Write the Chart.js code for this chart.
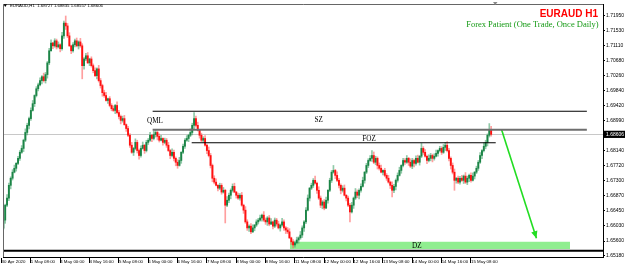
<!DOCTYPE html>
<html><head><meta charset="utf-8">
<script src="https://cdn.jsdelivr.net/npm/chart.js@4.4.1/dist/chart.umd.min.js"></script>
<style>html,body{margin:0;padding:0;background:#fff;overflow:hidden}</style>
</head><body>
<canvas id="c" width="625" height="270"></canvas>
<script>
const symbol = "EURAUD,H1";
const titleText = "EURAUD H1";
const subtitleText = "Forex Patient (One Trade, Once Daily)";

const opens = [1.6585,1.6596,1.6619,1.6661,1.6681,1.6717,1.6737,1.6754,1.6765,1.6779,
1.6793,1.6810,1.6821,1.6844,1.6866,1.6886,1.6905,1.6928,1.6947,1.6970,
1.6989,1.7000,1.7012,1.7023,1.7012,1.7029,1.7062,1.7096,1.7118,1.7110,
1.7124,1.7107,1.7113,1.7102,1.7138,1.7174,1.7166,1.7138,1.7110,1.7096,
1.7113,1.7124,1.7110,1.7121,1.7110,1.7054,1.7073,1.7082,1.7062,1.7073,
1.7054,1.7040,1.7026,1.7045,1.7012,1.6998,1.6978,1.6970,1.6956,1.6961,
1.6942,1.6933,1.6928,1.6942,1.6922,1.6911,1.6900,1.6905,1.6888,1.6877,
1.6858,1.6830,1.6810,1.6821,1.6838,1.6815,1.6801,1.6821,1.6830,1.6815,
1.6838,1.6844,1.6858,1.6849,1.6860,1.6866,1.6855,1.6844,1.6849,1.6838,
1.6844,1.6830,1.6815,1.6801,1.6810,1.6793,1.6782,1.6773,1.6787,1.6810,
1.6827,1.6844,1.6849,1.6858,1.6866,1.6886,1.6905,1.6886,1.6872,1.6858,
1.6844,1.6849,1.6830,1.6815,1.6801,1.6773,1.6737,1.6726,1.6717,1.6709,
1.6717,1.6698,1.6703,1.6661,1.6675,1.6689,1.6703,1.6714,1.6698,1.6689,
1.6681,1.6689,1.6661,1.6647,1.6614,1.6597,1.6602,1.6586,1.6597,1.6605,
1.6614,1.6619,1.6625,1.6633,1.6619,1.6614,1.6625,1.6608,1.6614,1.6602,
1.6619,1.6608,1.6597,1.6605,1.6614,1.6597,1.6591,1.6586,1.6569,1.6558,
1.6549,1.6555,1.6563,1.6569,1.6577,1.6597,1.6614,1.6647,1.6681,1.6709,
1.6717,1.6731,1.6723,1.6703,1.6681,1.6661,1.6670,1.6653,1.6675,1.6703,
1.6731,1.6754,1.6759,1.6745,1.6731,1.6717,1.6703,1.6709,1.6689,1.6681,
1.6661,1.6642,1.6661,1.6681,1.6698,1.6689,1.6703,1.6714,1.6731,1.6754,
1.6773,1.6787,1.6793,1.6801,1.6782,1.6793,1.6773,1.6765,1.6754,1.6759,
1.6745,1.6737,1.6726,1.6717,1.6703,1.6714,1.6731,1.6745,1.6759,1.6773,
1.6787,1.6782,1.6793,1.6782,1.6771,1.6787,1.6779,1.6793,1.6782,1.6799,
1.6821,1.6810,1.6799,1.6787,1.6793,1.6801,1.6793,1.6799,1.6807,1.6815,
1.6821,1.6810,1.6824,1.6830,1.6815,1.6793,1.6773,1.6754,1.6731,1.6737,
1.6726,1.6737,1.6731,1.6743,1.6726,1.6737,1.6745,1.6731,1.6743,1.6754,
1.6765,1.6782,1.6801,1.6815,1.6827,1.6838,1.6858,1.68727];

const highs = [1.6601,1.6627,1.6664,1.6691,1.6723,1.6741,1.6761,1.6774,1.6781,1.6799,
1.6815,1.6829,1.6847,1.6876,1.6892,1.6909,1.6935,1.6956,1.6972,1.6995,
1.7005,1.7020,1.7026,1.7033,1.7035,1.7066,1.7103,1.7127,1.7120,1.7130,
1.7129,1.7121,1.7116,1.7148,1.7180,1.7194,1.7173,1.7147,1.7112,1.7119,
1.7129,1.7132,1.7124,1.7131,1.7116,1.7077,1.7089,1.7091,1.7075,1.7079,
1.7059,1.7048,1.7048,1.7055,1.7018,1.7002,1.6985,1.6979,1.6963,1.6967,
1.6947,1.6941,1.6945,1.6952,1.6928,1.6915,1.6912,1.6914,1.6890,1.6883,
1.6863,1.6838,1.6824,1.6848,1.6844,1.6819,1.6828,1.6839,1.6832,1.6844,
1.6849,1.6866,1.6861,1.6870,1.6874,1.6870,1.6862,1.6858,1.6851,1.6850,
1.6849,1.6838,1.6818,1.6820,1.6816,1.6797,1.6789,1.6796,1.6812,1.6833,
1.6849,1.6857,1.6861,1.6876,1.6892,1.6922,1.6912,1.6895,1.6874,1.6864,
1.6854,1.6857,1.6833,1.6825,1.6807,1.6777,1.6744,1.6735,1.6719,1.6723,
1.6722,1.6711,1.6706,1.6685,1.6695,1.6707,1.6721,1.6723,1.6700,1.6695,
1.6694,1.6697,1.6664,1.6657,1.6620,1.6606,1.6609,1.6606,1.6607,1.6620,
1.6624,1.6633,1.6636,1.6643,1.6625,1.6629,1.6632,1.6623,1.6616,1.6625,
1.6624,1.6616,1.6608,1.6624,1.6620,1.6601,1.6598,1.6595,1.6571,1.6564,
1.6560,1.6571,1.6572,1.6587,1.6603,1.6618,1.6654,1.6690,1.6711,1.6723,
1.6736,1.6743,1.6726,1.6713,1.6687,1.6674,1.6677,1.6684,1.6705,1.6737,
1.6759,1.6773,1.6762,1.6755,1.6737,1.6721,1.6716,1.6718,1.6691,1.6687,
1.6666,1.6669,1.6684,1.6708,1.6704,1.6707,1.6721,1.6740,1.6756,1.6779,
1.6792,1.6801,1.6815,1.6811,1.6799,1.6797,1.6780,1.6774,1.6761,1.6765,
1.6750,1.6745,1.6729,1.6727,1.6720,1.6735,1.6752,1.6768,1.6775,1.6793,
1.6792,1.6801,1.6796,1.6792,1.6793,1.6791,1.6800,1.6802,1.6801,1.6835,
1.6826,1.6818,1.6802,1.6803,1.6807,1.6805,1.6806,1.6816,1.6817,1.6827,
1.6826,1.6832,1.6838,1.6840,1.6821,1.6797,1.6780,1.6763,1.6739,1.6743,
1.6742,1.6745,1.6746,1.6753,1.6743,1.6749,1.6752,1.6752,1.6756,1.6771,
1.6787,1.6809,1.6818,1.6837,1.6844,1.6862,1.6891,1.68835];

const lows = [1.6579,1.6593,1.6610,1.6657,1.6674,1.6707,1.6732,1.6752,1.6757,1.6775,
1.6787,1.6807,1.6812,1.6840,1.6859,1.6876,1.6900,1.6926,1.6939,1.6966,
1.6983,1.6997,1.7003,1.7008,1.7005,1.7019,1.7057,1.7094,1.7102,1.7106,
1.7101,1.7104,1.7093,1.7098,1.7131,1.7156,1.7133,1.7108,1.7088,1.7092,
1.7107,1.7107,1.7101,1.7106,1.7017,1.7044,1.7068,1.7060,1.7054,1.7050,
1.7034,1.7023,1.7017,1.7008,1.6991,1.6968,1.6965,1.6954,1.6948,1.6938,
1.6927,1.6925,1.6919,1.6918,1.6904,1.6890,1.6895,1.6886,1.6869,1.6854,
1.6824,1.6807,1.6801,1.6817,1.6808,1.6791,1.6796,1.6819,1.6807,1.6811,
1.6832,1.6841,1.6840,1.6845,1.6853,1.6845,1.6839,1.6842,1.6830,1.6834,
1.6824,1.6812,1.6792,1.6797,1.6786,1.6772,1.6765,1.6771,1.6779,1.6806,
1.6821,1.6841,1.6840,1.6854,1.6859,1.6876,1.6881,1.6870,1.6850,1.6840,
1.6838,1.6827,1.6806,1.6797,1.6766,1.6727,1.6721,1.6715,1.6701,1.6705,
1.6692,1.6695,1.6611,1.6657,1.6668,1.6679,1.6698,1.6696,1.6681,1.6677,
1.6675,1.6658,1.6638,1.6610,1.6590,1.6587,1.6581,1.6584,1.6589,1.6601,
1.6608,1.6616,1.6616,1.6615,1.6607,1.6604,1.6603,1.6606,1.6594,1.6598,
1.6602,1.6594,1.6588,1.6601,1.6590,1.6581,1.6581,1.6567,1.6550,1.6541,
1.6543,1.6552,1.6554,1.6565,1.6570,1.6587,1.6609,1.6645,1.6673,1.6705,
1.6711,1.6720,1.6694,1.6677,1.6654,1.6651,1.6648,1.6651,1.6667,1.6699,
1.6725,1.6751,1.6736,1.6727,1.6710,1.6693,1.6698,1.6687,1.6673,1.6657,
1.6614,1.6639,1.6652,1.6677,1.6682,1.6679,1.6698,1.6712,1.6723,1.6750,
1.6767,1.6784,1.6784,1.6778,1.6775,1.6763,1.6760,1.6752,1.6746,1.6741,
1.6731,1.6723,1.6708,1.6684,1.6696,1.6704,1.6726,1.6743,1.6751,1.6769,
1.6776,1.6779,1.6773,1.6767,1.6764,1.6769,1.6774,1.6780,1.6774,1.6795,
1.6804,1.6796,1.6778,1.6783,1.6786,1.6783,1.6788,1.6797,1.6799,1.6811,
1.6804,1.6807,1.6815,1.6811,1.6786,1.6763,1.6749,1.6703,1.6723,1.6722,
1.6720,1.6728,1.6722,1.6722,1.6719,1.6727,1.6726,1.6729,1.6735,1.6750,
1.6759,1.6779,1.6792,1.6811,1.6820,1.6828,1.6853,1.68557];

const closes = [1.6596,1.6619,1.6661,1.6681,1.6717,1.6737,1.6754,1.6765,1.6779,1.6793,
1.6810,1.6821,1.6844,1.6866,1.6886,1.6905,1.6928,1.6947,1.6970,1.6989,
1.7000,1.7012,1.7023,1.7012,1.7029,1.7062,1.7096,1.7118,1.7110,1.7124,
1.7107,1.7113,1.7102,1.7138,1.7174,1.7166,1.7138,1.7110,1.7096,1.7113,
1.7124,1.7110,1.7121,1.7110,1.7054,1.7073,1.7082,1.7062,1.7073,1.7054,
1.7040,1.7026,1.7045,1.7012,1.6998,1.6978,1.6970,1.6956,1.6961,1.6942,
1.6933,1.6928,1.6942,1.6922,1.6911,1.6900,1.6905,1.6888,1.6877,1.6858,
1.6830,1.6810,1.6821,1.6838,1.6815,1.6801,1.6821,1.6830,1.6815,1.6838,
1.6844,1.6858,1.6849,1.6860,1.6866,1.6855,1.6844,1.6849,1.6838,1.6844,
1.6830,1.6815,1.6801,1.6810,1.6793,1.6782,1.6773,1.6787,1.6810,1.6827,
1.6844,1.6849,1.6858,1.6866,1.6886,1.6905,1.6886,1.6872,1.6858,1.6844,
1.6849,1.6830,1.6815,1.6801,1.6773,1.6737,1.6726,1.6717,1.6709,1.6717,
1.6698,1.6703,1.6661,1.6675,1.6689,1.6703,1.6714,1.6698,1.6689,1.6681,
1.6689,1.6661,1.6647,1.6614,1.6597,1.6602,1.6586,1.6597,1.6605,1.6614,
1.6619,1.6625,1.6633,1.6619,1.6614,1.6625,1.6608,1.6614,1.6602,1.6619,
1.6608,1.6597,1.6605,1.6614,1.6597,1.6591,1.6586,1.6569,1.6558,1.6549,
1.6555,1.6563,1.6569,1.6577,1.6597,1.6614,1.6647,1.6681,1.6709,1.6717,
1.6731,1.6723,1.6703,1.6681,1.6661,1.6670,1.6653,1.6675,1.6703,1.6731,
1.6754,1.6759,1.6745,1.6731,1.6717,1.6703,1.6709,1.6689,1.6681,1.6661,
1.6642,1.6661,1.6681,1.6698,1.6689,1.6703,1.6714,1.6731,1.6754,1.6773,
1.6787,1.6793,1.6801,1.6782,1.6793,1.6773,1.6765,1.6754,1.6759,1.6745,
1.6737,1.6726,1.6717,1.6703,1.6714,1.6731,1.6745,1.6759,1.6773,1.6787,
1.6782,1.6793,1.6782,1.6771,1.6787,1.6779,1.6793,1.6782,1.6799,1.6821,
1.6810,1.6799,1.6787,1.6793,1.6801,1.6793,1.6799,1.6807,1.6815,1.6821,
1.6810,1.6824,1.6830,1.6815,1.6793,1.6773,1.6754,1.6731,1.6737,1.6726,
1.6737,1.6731,1.6743,1.6726,1.6737,1.6745,1.6731,1.6743,1.6754,1.6765,
1.6782,1.6801,1.6815,1.6827,1.6838,1.6858,1.6873,1.68606];

const xTickIndex = [0,16,32,48,64,80,96,112,128,144,160,176,192,208,224,240,256];
const xTickLabels = ["30 Apr 2020","1 May 08:00","4 May 00:00","4 May 16:00","5 May 08:00","6 May 00:00","6 May 16:00","7 May 08:00","8 May 00:00","8 May 16:00","11 May 08:00","12 May 00:00","12 May 16:00","13 May 08:00","14 May 00:00","14 May 16:00","15 May 08:00"];
const yTickValues = [1.71950,1.71530,1.71110,1.70680,1.70260,1.69840,1.69420,1.68990,1.68140,1.67720,1.67300,1.66870,1.66450,1.66030,1.65600,1.65180];

// annotation levels (price) and time spans (bar index)
const szLevel = 1.69256, qmlLevel = 1.68737, fozLevel = 1.68369;
const dzHigh = 1.65580, dzLow = 1.65375, supportLevel = 1.65325;
const zoneStart = 82.4, zoneEnd = 319.2;
const fozStart = 103.7, fozEnd = 269.5;
const dzStart = 157.3, dzEnd = 310.0;
const arrowStart = [272.7, 1.68737], arrowEnd = [291.7, 1.65680];
const xMin = 0.8, xMax = 328, yMin = 1.65151, yMax = 1.72278;

const bull = closes.map((c, i) => c >= opens[i]);
const bodies = closes.map((c, i) => ({x: i, y: [opens[i], c]}));
const wicks = closes.map((c, i) => ({x: i, y: [lows[i], highs[i]]}));

const mt4 = {
  id: 'mt4',
  beforeDatasetsDraw(chart) {
    const {ctx, chartArea: a, scales: {x, y}} = chart;
    ctx.save();
    const x1 = x.getPixelForValue(dzStart), x2 = x.getPixelForValue(dzEnd);
    const y1 = y.getPixelForValue(dzHigh), y2 = y.getPixelForValue(dzLow);
    ctx.fillStyle = '#90ee90';
    ctx.fillRect(x1, y1, x2 - x1, y2 - y1);
    const yb = Math.round(y.getPixelForValue(closes[closes.length - 1])) + 0.5;
    ctx.strokeStyle = '#c8c8c8'; ctx.lineWidth = 1;
    ctx.beginPath(); ctx.moveTo(a.left, yb); ctx.lineTo(a.right, yb); ctx.stroke();
    ctx.restore();
  },
  afterDatasetsDraw(chart) {
    const {ctx, chartArea: a, scales: {x, y}} = chart;
    ctx.save();
    const ys = y.getPixelForValue(supportLevel);
    ctx.strokeStyle = '#000'; ctx.lineWidth = 2;
    ctx.beginPath(); ctx.moveTo(a.left, ys); ctx.lineTo(a.right, ys); ctx.stroke();
    const sx = x.getPixelForValue(arrowStart[0]), sy = y.getPixelForValue(arrowStart[1]);
    const ex = x.getPixelForValue(arrowEnd[0]), ey = y.getPixelForValue(arrowEnd[1]);
    const ang = Math.atan2(ey - sy, ex - sx), L = 7, W = 3.2;
    ctx.fillStyle = '#22dd22';
    ctx.beginPath();
    ctx.moveTo(ex, ey);
    ctx.lineTo(ex - L * Math.cos(ang) + W * Math.sin(ang), ey - L * Math.sin(ang) - W * Math.cos(ang));
    ctx.lineTo(ex - L * Math.cos(ang) - W * Math.sin(ang), ey - L * Math.sin(ang) + W * Math.cos(ang));
    ctx.closePath(); ctx.fill();
    ctx.fillStyle = '#000';
    ctx.font = '7.2px "Liberation Serif"';
    ctx.textAlign = 'center'; ctx.textBaseline = 'middle';
    ctx.fillText('SZ', x.getPixelForValue(173), (y.getPixelForValue(szLevel) + y.getPixelForValue(qmlLevel)) / 2);
    ctx.textAlign = 'left'; ctx.textBaseline = 'bottom';
    ctx.fillText('QML', x.getPixelForValue(79.3), y.getPixelForValue(qmlLevel) - 4.5);
    ctx.textAlign = 'center';
    ctx.fillText('FOZ', x.getPixelForValue(200.4), y.getPixelForValue(fozLevel) - 0.5);
    ctx.textBaseline = 'middle';
    ctx.fillText('DZ', x.getPixelForValue(226.5), (y.getPixelForValue(dzHigh) + y.getPixelForValue(dzLow)) / 2 + 0.5);
    ctx.restore();
  },
  afterDraw(chart) {
    const {ctx, chartArea: a, scales: {y}} = chart;
    ctx.save();
    ctx.strokeStyle = '#666'; ctx.lineWidth = 1;
    ctx.beginPath(); ctx.moveTo(a.left + 0.5, a.bottom); ctx.lineTo(a.left + 0.5, a.top + 0.5); ctx.lineTo(a.right, a.top + 0.5); ctx.stroke();
    ctx.fillStyle = '#888';
    ctx.beginPath(); ctx.moveTo(493, 2); ctx.lineTo(497.5, 2); ctx.lineTo(495.2, 5); ctx.closePath(); ctx.fill();
    const n = closes.length - 1;
    ctx.fillStyle = '#000';
    ctx.beginPath(); ctx.moveTo(3.5, 4.3); ctx.lineTo(7, 4.3); ctx.lineTo(5.25, 7); ctx.closePath(); ctx.fill();
    ctx.font = '4.3px "Liberation Sans"'; ctx.textAlign = 'left'; ctx.textBaseline = 'middle';
    ctx.fillText(symbol + '  ' + [opens[n], highs[n], lows[n], closes[n]].map(v => v.toFixed(5)).join(' '), 10, 5.8);
    ctx.textAlign = 'right'; ctx.textBaseline = 'alphabetic';
    ctx.fillStyle = '#ff0000'; ctx.font = 'bold 10px "Liberation Sans"';
    ctx.fillText(titleText, 598, 16.6);
    ctx.fillStyle = '#159a15'; ctx.font = '8.5px "Liberation Serif"';
    ctx.fillText(subtitleText, 598.5, 26.6);
    const yp = y.getPixelForValue(closes[n]);
    ctx.fillStyle = '#000'; ctx.fillRect(a.right + 1, yp - 3.6, 625 - a.right - 1, 7.2);
    ctx.fillStyle = '#fff'; ctx.font = '5px "Liberation Sans"'; ctx.textAlign = 'left'; ctx.textBaseline = 'middle';
    ctx.fillText(closes[n].toFixed(5), a.right + 3, yp + 0.3);
    ctx.restore();
  }
};

const lineDs = (pts, color, width) => ({
  type: 'line', data: pts.map(p => ({x: p[0], y: p[1]})), borderColor: color, borderWidth: width,
  pointRadius: 0, tension: 0, fill: false
});

new Chart(document.getElementById('c'), {
  type: 'bar',
  data: {
    datasets: [
      lineDs([[zoneStart, szLevel], [zoneEnd, szLevel]], '#000', 1.1),
      lineDs([[zoneStart, qmlLevel], [zoneEnd, qmlLevel]], '#6e6e6e', 2),
      lineDs([[fozStart, fozLevel], [fozEnd, fozLevel]], '#000', 1.1),
      lineDs([arrowStart, arrowEnd], '#22dd22', 1.6),
      {data: bodies, backgroundColor: bull.map(b => b ? '#1b8446' : '#ff1010'), barThickness: 1.25, grouped: false, borderWidth: 0},
      {data: wicks, backgroundColor: bull.map(b => b ? 'rgba(70,165,110,0.6)' : 'rgba(255,80,80,0.55)'), barThickness: 1, grouped: false, borderWidth: 0}
    ]
  },
  options: {
    responsive: false, animation: false, devicePixelRatio: 1,
    layout: {padding: {left: 3, top: 3, right: 0, bottom: 0}},
    plugins: {legend: {display: false}, tooltip: {enabled: false}},
    scales: {
      x: {
        type: 'linear', min: xMin, max: xMax, offset: false,
        afterBuildTicks: s => { s.ticks = xTickIndex.map(v => ({value: v})); },
        afterFit: s => { s.height = 13; },
        ticks: {autoSkip: false, maxRotation: 0, minRotation: 0, align: 'start', padding: -4, color: '#000',
          font: {family: 'Liberation Sans', size: 4.4}, callback: (v, i) => xTickLabels[i]},
        grid: {drawOnChartArea: false, tickLength: 6, color: '#000', offset: false},
        border: {display: true, color: '#000', width: 1}
      },
      y: {
        position: 'right', min: yMin, max: yMax,
        afterBuildTicks: s => { s.ticks = yTickValues.map(v => ({value: v})); },
        afterFit: s => { s.width = 22; },
        ticks: {autoSkip: false, padding: 1, color: '#000', font: {family: 'Liberation Sans', size: 5},
          callback: v => Number(v).toFixed(5)},
        grid: {drawOnChartArea: false, tickLength: 2, color: '#000'},
        border: {display: true, color: '#000', width: 1}
      }
    }
  },
  plugins: [mt4]
});
</script>
</body></html>
